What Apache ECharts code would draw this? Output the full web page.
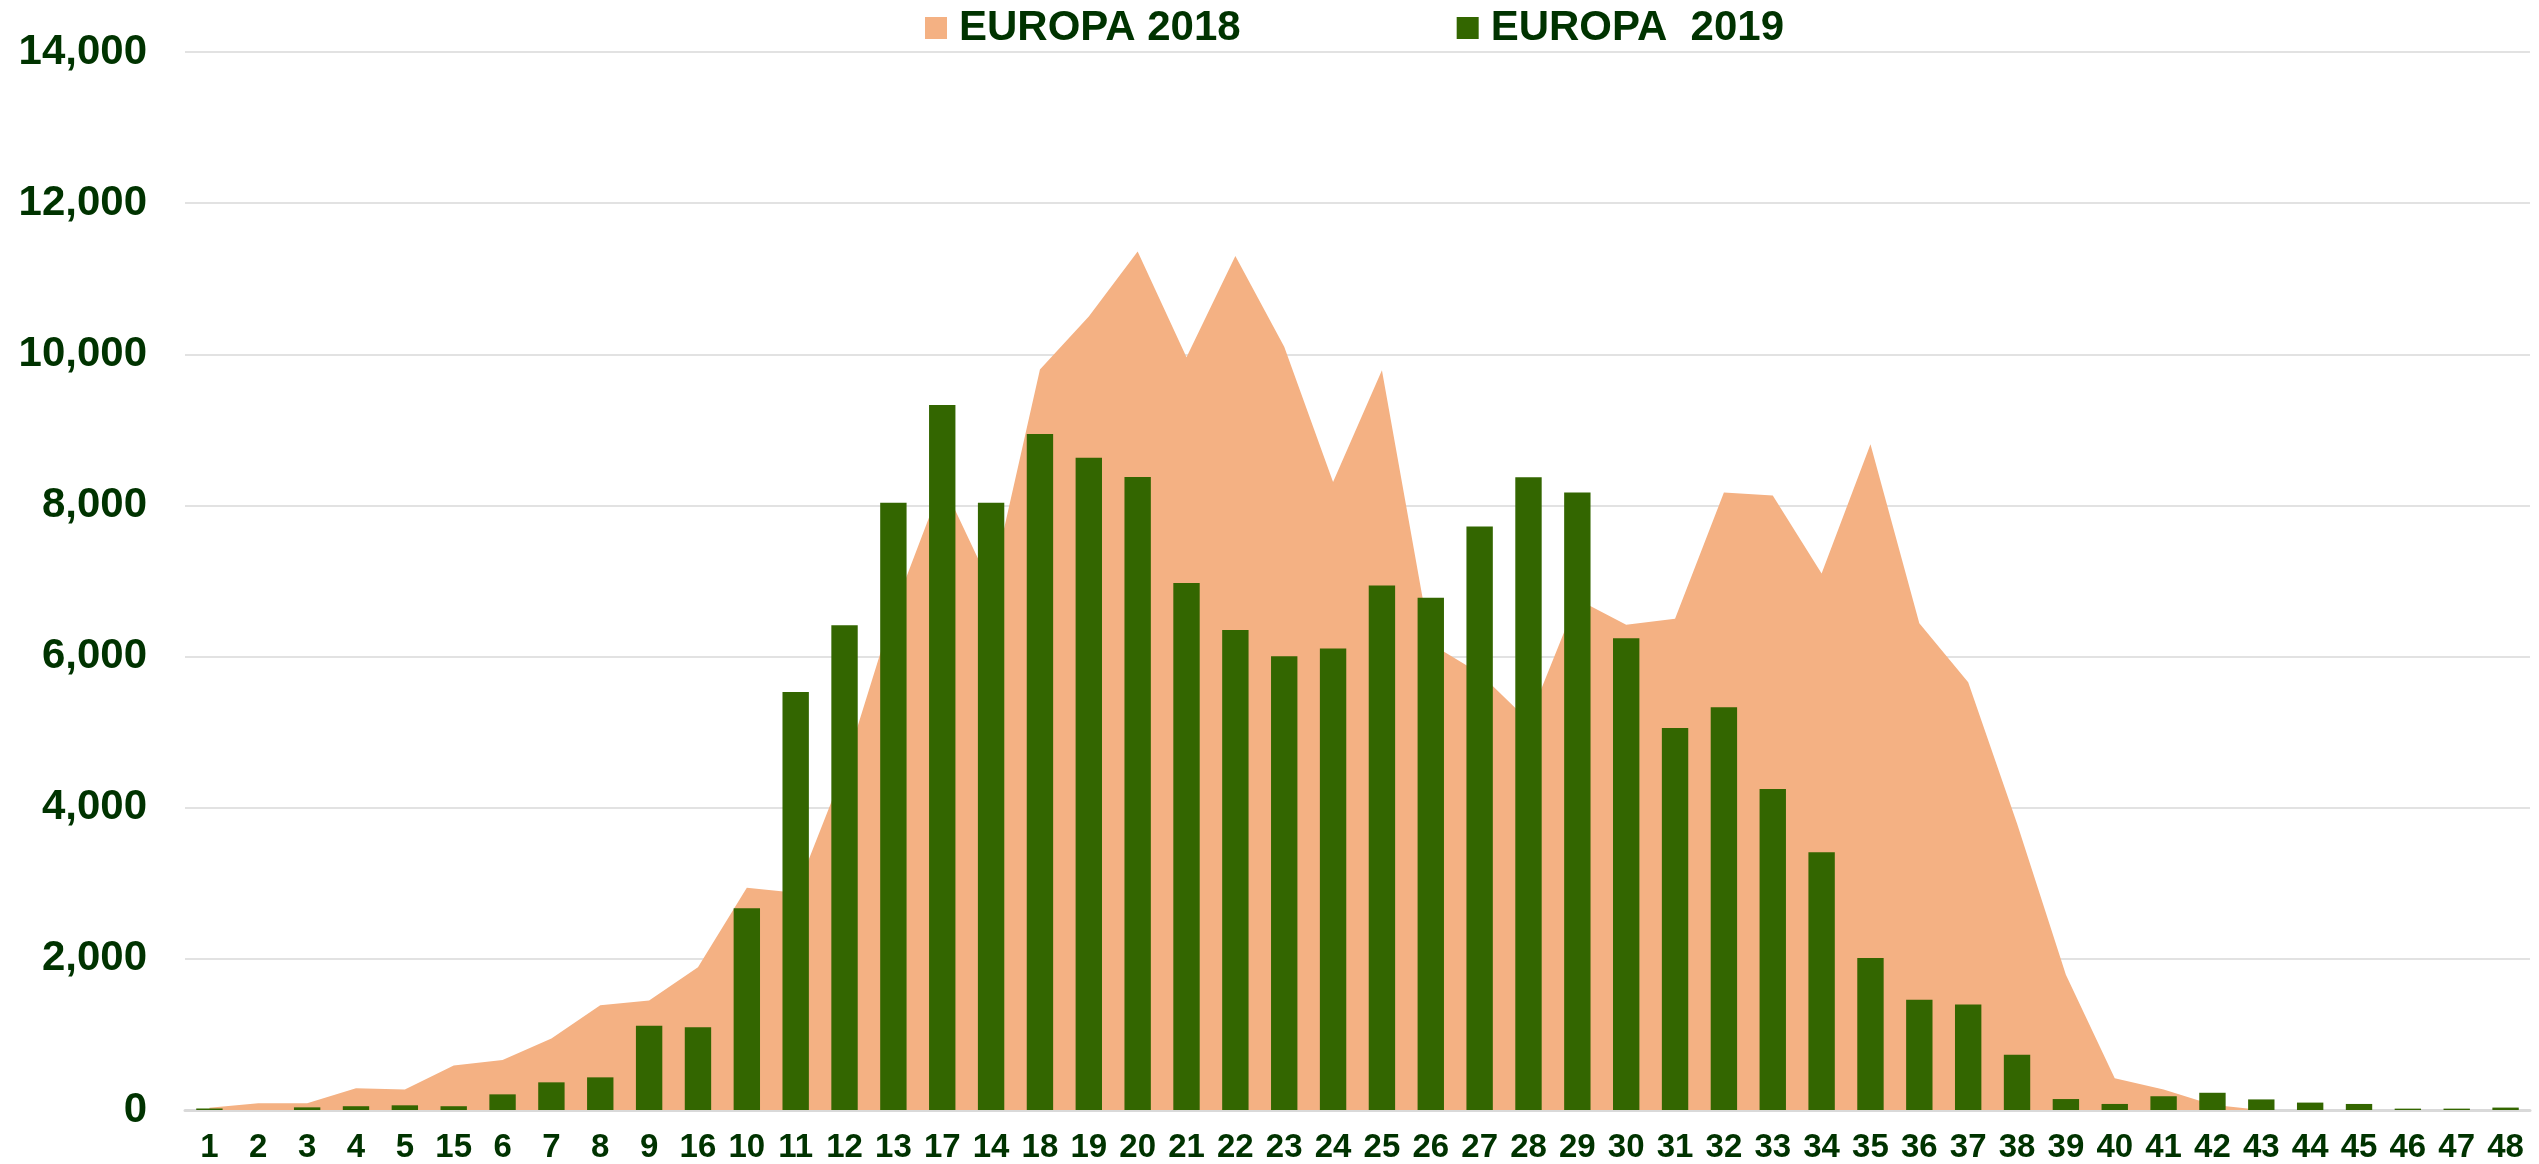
<!DOCTYPE html>
<html lang="en">
<head>
    <meta charset="UTF-8">
    <title>EUROPA 2018 / 2019</title>
    <script src="https://cdn.jsdelivr.net/npm/echarts@6/dist/echarts.min.js"></script>
    <style>
        html, body { margin: 0; padding: 0; background: #fff; }
        #chart { width: 2539px; height: 1164px; }
    </style>
</head>
<body>
<div id="chart"></div>

<script>
    // categories, in the order they appear on the axis
    var categories = ['1', '2', '3', '4', '5', '15', '6', '7', '8', '9', '16', '10', '11', '12', '13', '17', '14',
        '18', '19', '20', '21', '22', '23', '24', '25', '26', '27', '28', '29', '30', '31', '32', '33',
        '34', '35', '36', '37', '38', '39', '40', '41', '42', '43', '44', '45', '46', '47', '48'];

    // EUROPA 2018 (area)
    var europa2018 = [30, 88, 88, 287, 270, 590, 660, 945, 1385, 1450, 1890, 2940, 2875, 4520, 6600, 8300, 6930,
        9800, 10500, 11360, 9960, 11300, 10100, 8310, 9790, 6170, 5780, 5150, 6760, 6420, 6500, 8170, 8130,
        7100, 8810, 6440, 5660, 3790, 1790, 420, 270, 70, 0, 0, 0, 0, 0, 0];

    // EUROPA 2019 (columns)
    var europa2019 = [20, 0, 35, 50, 62, 50, 207, 366, 432, 1116, 1094, 2670, 5530, 6415, 8035, 9330, 8035,
        8945, 8632, 8377, 6975, 6353, 6005, 6107, 6940, 6777, 7722, 8372, 8172, 6244, 5054, 5328, 4248,
        3410, 2012, 1458, 1396, 732, 145, 80, 182, 228, 140, 98, 80, 18, 18, 32];

    var seriesNames = ['EUROPA 2018', 'EUROPA  2019'];

    var textColor = '#003300';
    var fontFamily = '"Liberation Sans", Arial, sans-serif';

    var myChart = echarts.init(document.getElementById('chart'));

    var option = {
        animation: false,
        backgroundColor: '#ffffff',
        color: ['#F4B183', '#336600'],
        legend: {
            data: seriesNames,
            left: 925,
            top: 7,
            padding: 0,
            icon: 'rect',
            itemWidth: 22,
            itemHeight: 22,
            itemGap: 216,
            textStyle: {
                color: textColor,
                fontFamily: fontFamily,
                fontWeight: 'bold',
                fontSize: 42,
                padding: [0, 0, 0, 7]
            }
        },
        grid: {
            left: 185,
            right: 9,
            top: 52,
            bottom: 54,
            containLabel: false
        },
        xAxis: {
            type: 'category',
            data: categories,
            boundaryGap: true,
            axisTick: {show: false},
            axisLine: {
                lineStyle: {color: '#D9D9D9', width: 3}
            },
            axisLabel: {
                interval: 0,
                margin: 21,
                color: textColor,
                fontFamily: fontFamily,
                fontWeight: 'bold',
                fontSize: 33
            }
        },
        yAxis: {
            type: 'value',
            min: 0,
            max: 14000,
            interval: 2000,
            axisLine: {show: false},
            axisTick: {show: false},
            splitLine: {
                lineStyle: {color: '#D9D9D9', width: 1.5}
            },
            axisLabel: {
                margin: 38,
                color: textColor,
                fontFamily: fontFamily,
                fontWeight: 'bold',
                fontSize: 42,
                formatter: function (v) {
                    return v.toLocaleString('en-US');
                }
            }
        },
        series: [
            {
                name: seriesNames[0],
                type: 'line',
                data: europa2018,
                symbol: 'none',
                lineStyle: {width: 0},
                areaStyle: {color: '#F4B183', opacity: 1},
                z: 1
            },
            {
                name: seriesNames[1],
                type: 'bar',
                data: europa2019,
                barWidth: '54%',
                itemStyle: {color: '#336600'},
                z: 3
            }
        ]
    };

    myChart.setOption(option);
</script>
</body>
</html>
